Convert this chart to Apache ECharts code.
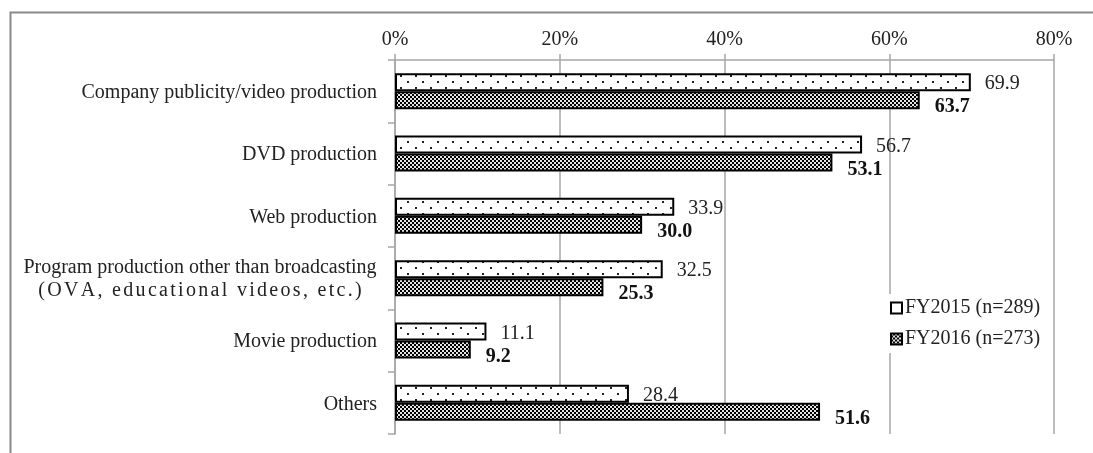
<!DOCTYPE html>
<html>
<head>
<meta charset="utf-8">
<script src="https://cdn.jsdelivr.net/npm/echarts@6/dist/echarts.min.js"></script>
<style>
  html, body { margin: 0; padding: 0; background: #fff; }
  #chart { width: 1093px; height: 453px; }
</style>
</head>
<body>
<div id="chart"></div>
<script>
// Production genres, FY2015 vs FY2016 (%)
const categories = [
  'Company publicity/video production',
  'DVD production',
  'Web production',
  'Program production other than broadcasting\n(OVA, educational videos, etc.)',
  'Movie production',
  'Others'
];
const seriesNames = ['FY2015 (n=289)', 'FY2016 (n=273)'];
const fy2015 = [69.9, 56.7, 33.9, 32.5, 11.1, 28.4];
const fy2016 = [63.7, 53.1, 30.0, 25.3, 9.2, 51.6];
const tickValues = [0, 20, 40, 60, 80];

const FONT = '"Liberation Serif", "Times New Roman", serif';
const LABEL_SIZE = 20;
const TRACKING = 2.3; // extra spacing per glyph on the bracketed second line

// Sparse dot fill for FY2015
function dotPattern() {
  const c = document.createElement('canvas');
  c.width = 15; c.height = 12;
  const g = c.getContext('2d');
  g.fillStyle = '#fff';
  g.fillRect(0, 0, 15, 12);
  g.fillStyle = '#222';
  g.fillRect(2, 9, 2, 2);
  g.fillRect(10, 3, 2, 2);
  return c;
}
// 2px checkerboard fill for FY2016
function checkerPattern() {
  const c = document.createElement('canvas');
  c.width = 4; c.height = 4;
  const g = c.getContext('2d');
  g.fillStyle = '#000';
  g.fillRect(0, 0, 4, 4);
  g.fillStyle = '#e4e4e4';
  g.fillRect(0, 0, 2, 2);
  g.fillRect(2, 2, 2, 2);
  return c;
}
const fill2015 = { image: dotPattern(), repeat: 'repeat' };
const fill2016 = { image: checkerPattern(), repeat: 'repeat' };

// Rich styles for the category labels: the first line of a two-line label
// is one run; following lines are letter-spaced glyph by glyph.
const measureCtx = document.createElement('canvas').getContext('2d');
measureCtx.font = LABEL_SIZE + 'px ' + FONT;
const baseRich = { fontFamily: FONT, fontSize: LABEL_SIZE, color: '#222', lineHeight: 23, align: 'center' };
const labelRich = { c: Object.assign({ width: 354 }, baseRich) };
categories.forEach(cat => {
  cat.split('\n').slice(1).forEach(line => {
    line.split('').forEach(ch => {
      const key = 'g' + ch.charCodeAt(0);
      if (!labelRich[key]) {
        labelRich[key] = Object.assign({ width: measureCtx.measureText(ch).width + TRACKING }, baseRich);
      }
    });
  });
});
function categoryLabel(v) {
  if (v.indexOf('\n') < 0) return v;
  const lines = v.split('\n');
  const rest = lines.slice(1).map(line =>
    line.split('').map(ch => '{g' + ch.charCodeAt(0) + '|' + ch + '}').join('')
  );
  return ['{c|' + lines[0] + '}'].concat(rest).join('\n');
}

const chart = echarts.init(document.getElementById('chart'), null, { renderer: 'canvas' });

chart.setOption({
  animation: false,
  backgroundColor: '#fff',
  textStyle: { fontFamily: FONT },
  graphic: [{
    type: 'rect',
    left: 8, top: 10,
    shape: { width: 1200, height: 600 },
    style: { fill: 'none', stroke: '#8a8a8a', lineWidth: 2 },
    silent: true,
    z: -10
  }],
  grid: { left: 395, right: 39, top: 60, bottom: 19, containLabel: false },
  legend: {
    orient: 'vertical',
    left: 884, top: 294,
    padding: [4, 6, 4, 6],
    backgroundColor: '#fff',
    icon: 'rect',
    itemWidth: 11, itemHeight: 11,
    itemGap: 11,
    textStyle: { fontFamily: FONT, fontSize: 20, color: '#222', padding: [0, 0, 0, -2] },
    data: [
      { name: seriesNames[0], itemStyle: { color: '#fff', borderColor: '#000', borderWidth: 2 } },
      { name: seriesNames[1], itemStyle: { color: fill2016, borderColor: '#000', borderWidth: 2 } }
    ],
    z: 10
  },
  xAxis: {
    type: 'value',
    position: 'top',
    min: tickValues[0],
    max: tickValues[tickValues.length - 1],
    interval: 20,
    axisLine: { show: true, lineStyle: { color: '#a6a6a6', width: 1.5 } },
    axisTick: { show: true, length: 6, lineStyle: { color: '#a6a6a6', width: 1.5 } },
    splitLine: { show: true, lineStyle: { color: '#a6a6a6', width: 1.5 } },
    axisLabel: {
      formatter: v => v + '%',
      fontFamily: FONT, fontSize: 20, color: '#222', margin: 10
    }
  },
  yAxis: {
    type: 'category',
    inverse: true,
    data: categories,
    axisLine: { show: true, lineStyle: { color: '#a6a6a6', width: 1.5 } },
    axisTick: { show: true, length: 7, lineStyle: { color: '#a6a6a6', width: 1.5 } },
    axisLabel: {
      fontFamily: FONT, fontSize: LABEL_SIZE, color: '#222', margin: 18,
      lineHeight: 23, align: 'right', padding: [3, 0, 0, 0],
      formatter: categoryLabel,
      rich: labelRich
    }
  },
  series: [
    {
      name: seriesNames[0],
      type: 'bar',
      data: fy2015,
      barWidth: 18,
      barGap: '0%',
      itemStyle: { color: fill2015, borderColor: '#000', borderWidth: 2 },
      label: {
        show: true, position: 'right', distance: 14,
        formatter: p => p.value.toFixed(1),
        fontFamily: FONT, fontSize: 20, color: '#222',
        offset: [0, 2]
      }
    },
    {
      name: seriesNames[1],
      type: 'bar',
      data: fy2016,
      barWidth: 18,
      barGap: '0%',
      itemStyle: { color: fill2016, borderColor: '#000', borderWidth: 2 },
      label: {
        show: true, position: 'right', distance: 15,
        formatter: p => p.value.toFixed(1),
        fontFamily: FONT, fontSize: 20, fontWeight: 'bold', color: '#111',
        offset: [0, 7]
      }
    }
  ]
});
</script>
</body>
</html>
